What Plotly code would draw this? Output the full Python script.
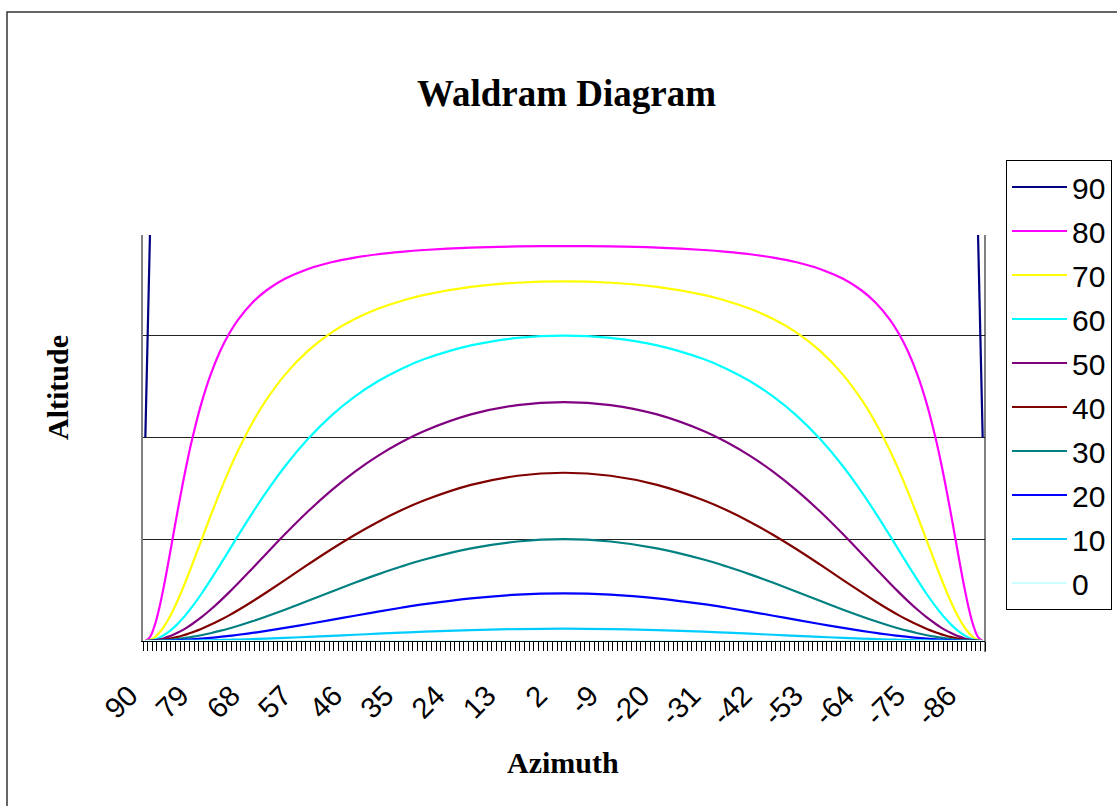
import plotly.graph_objects as go

# Azimuth sample positions (degrees), left (90) to right (-90)
AZIMUTH = [90, 89, 88, 87, 86, 85, 84, 83, 82, 81, 80, 78, 76, 74, 72, 70, 67, 64, 60, 55, 50, 45, 40, 35, 30, 20, 10, 0,
           -10, -20, -30, -35, -40, -45, -50, -55, -60, -64, -67, -70, -72, -74, -76, -78, -80, -81, -82, -83, -84, -85, -86, -87, -88, -89, -90]

ALT_90 = [0.5, 1, 1, 1, 1, 1, 1, 1, 1, 1, 1, 1, 1, 1, 1, 1, 1, 1, 1, 1, 1, 1, 1, 1, 1, 1, 1, 1,
          1, 1, 1, 1, 1, 1, 1, 1, 1, 1, 1, 1, 1, 1, 1, 1, 1, 1, 1, 1, 1, 1, 1, 1, 1, 1, 0.5]
ALT_80 = [0, 0.0097, 0.0377, 0.0810, 0.1353, 0.1963, 0.2600, 0.3233, 0.3838, 0.4404, 0.4923, 0.5817, 0.6531, 0.7096,
          0.7544, 0.7900, 0.8308, 0.8607, 0.8894, 0.9137, 0.9300, 0.9415, 0.9497, 0.9557, 0.9602, 0.9660, 0.9689, 0.9698,
          0.9689, 0.9660, 0.9602, 0.9557, 0.9497, 0.9415, 0.9300, 0.9137, 0.8894, 0.8607, 0.8308, 0.7900, 0.7544,
          0.7096, 0.6531, 0.5817, 0.4923, 0.4404, 0.3838, 0.3233, 0.2600, 0.1963, 0.1353, 0.0810, 0.0377, 0.0097, 0]
ALT_70 = [0, 0.0023, 0.0091, 0.0203, 0.0354, 0.0542, 0.0762, 0.1008, 0.1276, 0.1559, 0.1854, 0.2460, 0.3064, 0.3645,
          0.4189, 0.4689, 0.5354, 0.5919, 0.6536, 0.7129, 0.7572, 0.7905, 0.8158, 0.8351, 0.8499, 0.8695, 0.8798, 0.8830,
          0.8798, 0.8695, 0.8499, 0.8351, 0.8158, 0.7905, 0.7572, 0.7129, 0.6536, 0.5919, 0.5354, 0.4689, 0.4189,
          0.3645, 0.3064, 0.2460, 0.1854, 0.1559, 0.1276, 0.1008, 0.0762, 0.0542, 0.0354, 0.0203, 0.0091, 0.0023, 0]
ALT_60 = [0, 0.0009, 0.0036, 0.0082, 0.0144, 0.0223, 0.0317, 0.0427, 0.0549, 0.0684, 0.0830, 0.1148, 0.1494, 0.1856,
          0.2227, 0.2598, 0.3141, 0.3657, 0.4286, 0.4967, 0.5535, 0.6000, 0.6377, 0.6681, 0.6923, 0.7260, 0.7442, 0.7500,
          0.7442, 0.7260, 0.6923, 0.6681, 0.6377, 0.6000, 0.5535, 0.4967, 0.4286, 0.3657, 0.3141, 0.2598, 0.2227,
          0.1856, 0.1494, 0.1148, 0.0830, 0.0684, 0.0549, 0.0427, 0.0317, 0.0223, 0.0144, 0.0082, 0.0036, 0.0009, 0]
ALT_50 = [0, 0.0004, 0.0017, 0.0039, 0.0069, 0.0107, 0.0153, 0.0207, 0.0268, 0.0336, 0.0411, 0.0578, 0.0767, 0.0974,
          0.1194, 0.1425, 0.1782, 0.2144, 0.2620, 0.3185, 0.3698, 0.4153, 0.4546, 0.4880, 0.5158, 0.5564, 0.5794, 0.5868,
          0.5794, 0.5564, 0.5158, 0.4880, 0.4546, 0.4153, 0.3698, 0.3185, 0.2620, 0.2144, 0.1782, 0.1425, 0.1194,
          0.0974, 0.0767, 0.0578, 0.0411, 0.0336, 0.0268, 0.0207, 0.0153, 0.0107, 0.0069, 0.0039, 0.0017, 0.0004, 0]
ALT_40 = [0, 0.0002, 0.0009, 0.0019, 0.0034, 0.0053, 0.0076, 0.0103, 0.0135, 0.0169, 0.0208, 0.0295, 0.0396, 0.0508,
          0.0630, 0.0761, 0.0971, 0.1192, 0.1497, 0.1881, 0.2254, 0.2604, 0.2924, 0.3209, 0.3456, 0.3834, 0.4058, 0.4132,
          0.4058, 0.3834, 0.3456, 0.3209, 0.2924, 0.2604, 0.2254, 0.1881, 0.1497, 0.1192, 0.0971, 0.0761, 0.0630,
          0.0508, 0.0396, 0.0295, 0.0208, 0.0169, 0.0135, 0.0103, 0.0076, 0.0053, 0.0034, 0.0019, 0.0009, 0.0002, 0]
ALT_30 = [0, 0.0001, 0.0004, 0.0009, 0.0016, 0.0025, 0.0036, 0.0049, 0.0064, 0.0081, 0.0100, 0.0142, 0.0191, 0.0247,
          0.0308, 0.0375, 0.0484, 0.0602, 0.0769, 0.0988, 0.1211, 0.1429, 0.1636, 0.1828, 0.2000, 0.2274, 0.2443, 0.2500,
          0.2443, 0.2274, 0.2000, 0.1828, 0.1636, 0.1429, 0.1211, 0.0988, 0.0769, 0.0602, 0.0484, 0.0375, 0.0308,
          0.0247, 0.0191, 0.0142, 0.0100, 0.0081, 0.0064, 0.0049, 0.0036, 0.0025, 0.0016, 0.0009, 0.0004, 0.0001, 0]
ALT_20 = [0, 0.0000, 0.0002, 0.0004, 0.0006, 0.0010, 0.0014, 0.0020, 0.0026, 0.0032, 0.0040, 0.0057, 0.0077, 0.0100,
          0.0125, 0.0153, 0.0198, 0.0248, 0.0321, 0.0418, 0.0519, 0.0621, 0.0721, 0.0816, 0.0904, 0.1047, 0.1139, 0.1170,
          0.1139, 0.1047, 0.0904, 0.0816, 0.0721, 0.0621, 0.0519, 0.0418, 0.0321, 0.0248, 0.0198, 0.0153, 0.0125,
          0.0100, 0.0077, 0.0057, 0.0040, 0.0032, 0.0026, 0.0020, 0.0014, 0.0010, 0.0006, 0.0004, 0.0002, 0.0000, 0]
ALT_10 = [0, 0.0000, 0.0000, 0.0001, 0.0002, 0.0002, 0.0003, 0.0005, 0.0006, 0.0008, 0.0009, 0.0013, 0.0018, 0.0024,
          0.0030, 0.0036, 0.0047, 0.0059, 0.0077, 0.0101, 0.0127, 0.0153, 0.0179, 0.0204, 0.0228, 0.0267, 0.0293, 0.0302,
          0.0293, 0.0267, 0.0228, 0.0204, 0.0179, 0.0153, 0.0127, 0.0101, 0.0077, 0.0059, 0.0047, 0.0036, 0.0030,
          0.0024, 0.0018, 0.0013, 0.0009, 0.0008, 0.0006, 0.0005, 0.0003, 0.0002, 0.0002, 0.0001, 0.0000, 0.0000, 0]
ALT_0 = [0, 0, 0, 0, 0, 0, 0, 0, 0, 0, 0, 0, 0, 0, 0, 0, 0, 0, 0, 0, 0, 0, 0, 0, 0, 0, 0, 0,
         0, 0, 0, 0, 0, 0, 0, 0, 0, 0, 0, 0, 0, 0, 0, 0, 0, 0, 0, 0, 0, 0, 0, 0, 0, 0, 0]

SERIES_NAMES = ["90", "80", "70", "60", "50", "40", "30", "20", "10", "0"]
SERIES_VALUES = [ALT_90, ALT_80, ALT_70, ALT_60, ALT_50, ALT_40, ALT_30, ALT_20, ALT_10, ALT_0]
SERIES_COLORS = ["#000080", "#FF00FF", "#FFFF00", "#00FFFF", "#800080",
                 "#800000", "#008080", "#0000FF", "#00CCFF", "#CCFFFF"]

for v in SERIES_VALUES:
    assert len(v) == len(AZIMUTH), len(v)

# Category axis: azimuth 90 .. -90 in 1 degree steps, labelled every 11
CATEGORIES = list(range(90, -91, -1))
TICK_LABELS = [str(c) for c in CATEGORIES[::11]]
TICK_POS = [CATEGORIES.index(int(t)) for t in TICK_LABELS]

SERIF = "Liberation Serif, Times New Roman, serif"
SANS = "Liberation Sans, Arial, sans-serif"

fig = go.Figure()
xs = [CATEGORIES.index(a) for a in AZIMUTH]
for name, vals, col in zip(SERIES_NAMES, SERIES_VALUES, SERIES_COLORS):
    fig.add_trace(go.Scatter(
        x=xs, y=vals, name=name, mode="lines", legendgroup=name,
        line=dict(color=col, width=2.2,
                  shape="linear" if name == "90" else "spline", smoothing=1.0),
    ))

W, H = 1117, 806
L, R, T, B = 143, 985, 235, 641


def px(xp):
    return (xp - L) / (R - L)


def py(yp):
    return (B - yp) / (B - T)


fig.update_layout(
    width=W, height=H,
    margin=dict(l=L, r=W - R, t=T, b=H - B, autoexpand=False),
    paper_bgcolor="white", plot_bgcolor="white",
    showlegend=True,
    legend=dict(
        x=px(1006), y=py(160), xanchor="left", yanchor="top",
        font=dict(family=SANS, size=30, color="black"),
        bordercolor="black", borderwidth=1, bgcolor="white",
        tracegroupgap=2, traceorder="grouped", itemwidth=55, maxheight=700,
    ),
    xaxis=dict(
        range=[-0.5, 180.5], tickmode="array", tickvals=TICK_POS, ticktext=TICK_LABELS,
        tickangle=-45, tickfont=dict(family=SANS, size=29, color="black"),
        ticks="outside", ticklen=9, tickcolor="rgba(0,0,0,0)",
        ticklabelstandoff=16, ticklabelshift=-16,
        minor=dict(ticks="outside", ticklen=9, tickcolor="black", tickwidth=1,
                   tickmode="linear", tick0=-0.5, dtick=1),
        showgrid=False, zeroline=False, showline=True, linecolor="black", linewidth=1,
    ),
    yaxis=dict(
        range=[0, 0.997], tickmode="array", tickvals=[0.25, 0.5, 0.75],
        showticklabels=False, ticks="", showgrid=True, gridcolor="#222222", gridwidth=1,
        zeroline=False, showline=True, linecolor="#808080", linewidth=2,
    ),
    shapes=[
        dict(type="line", xref="paper", yref="paper", x0=1, x1=1, y0=py(652), y1=1,
             line=dict(color="black", width=1)),
        dict(type="rect", xref="paper", yref="paper", x0=px(7), x1=px(1130),
             y0=py(830), y1=py(12), line=dict(color="#333333", width=1.5)),
    ],
    annotations=[
        dict(text="<b>Waldram Diagram</b>", xref="paper", yref="paper", x=px(566), y=py(94),
             xanchor="center", yanchor="middle", showarrow=False,
             font=dict(family=SERIF, size=37, color="black")),
        dict(text="<b>Altitude</b>", xref="paper", yref="paper", x=px(57), y=py(388),
             xanchor="center", yanchor="middle", showarrow=False, textangle=-90,
             font=dict(family=SERIF, size=30, color="black")),
        dict(text="<b>Azimuth</b>", xref="paper", yref="paper", x=px(563), y=py(762),
             xanchor="center", yanchor="middle", showarrow=False,
             font=dict(family=SERIF, size=30, color="black")),
    ],
)

fig.write_html("out.html")
